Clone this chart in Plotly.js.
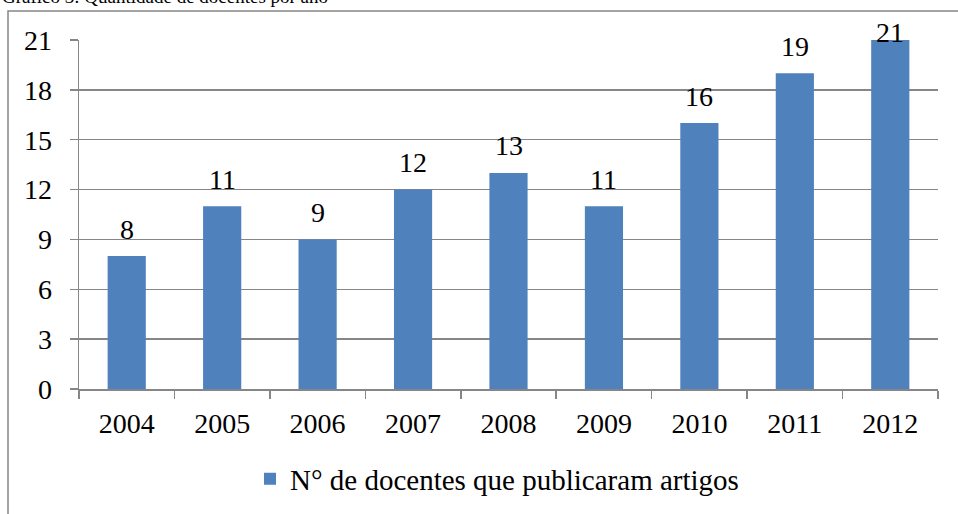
<!DOCTYPE html>
<html>
<head>
<meta charset="utf-8">
<script src="https://cdn.plot.ly/plotly-3.0.1.min.js"></script>
<style>
html,body{margin:0;padding:0;background:#fff;}
#chart{width:958px;height:514px;}
</style>
</head>
<body>
<div id="chart"></div>
<script>
const years = ['2004','2005','2006','2007','2008','2009','2010','2011','2012'];
const docentes = [8, 11, 9, 12, 13, 11, 16, 19, 21];
const seriesName = 'N° de docentes que publicaram artigos';
const chartTitle = 'Gráfico 3: Quantidade de docentes por ano';
const yTicks = [0, 3, 6, 9, 12, 15, 18, 21];

const font = 'Liberation Serif';
const W = 958, H = 514;
const plotL = 79, plotR = 938, plotT = 40, plotB = 389;
const pw = plotR - plotL, ph = plotB - plotT;
const yMax = 21;
const pxPerUnit = ph / yMax;

const trace = {
  type: 'bar',
  x: years,
  y: docentes,
  name: seriesName,
  marker: {color: '#4f81bd'},
  showlegend: true,
  hoverinfo: 'none'
};

// value labels placed above each bar (kept inside the chart frame like the original)
const labelGap = 17, minBaseline = 42;
const labelAnnotations = docentes.map((v, i) => {
  let baseline = plotB - v * pxPerUnit - labelGap;
  if (baseline < minBaseline) baseline = minBaseline;
  const center = baseline - 10;
  return {
    x: i, xref: 'x',
    y: (plotB - center) / ph, yref: 'paper',
    yanchor: 'middle', xanchor: 'center',
    text: String(v), showarrow: false,
    font: {family: font, size: 28, color: '#000'}
  };
});

const layout = {
  width: W, height: H,
  margin: {l: plotL, r: W - plotR, t: plotT, b: H - plotB, pad: 0},
  paper_bgcolor: '#fff', plot_bgcolor: '#fff',
  bargap: 0.6,
  font: {family: font, color: '#000'},
  xaxis: {
    type: 'category',
    categoryarray: years, categoryorder: 'array',
    range: [-0.5, years.length - 0.5],
    showline: true, linecolor: '#868686', linewidth: 1.5,
    ticks: 'outside', tickson: 'boundaries', ticklen: 8, tickcolor: '#868686', tickwidth: 1.5,
    tickfont: {family: font, size: 28, color: '#000'},
    tickangle: 0,
    ticklabelstandoff: 9,
    showgrid: false, zeroline: false, fixedrange: true, automargin: false
  },
  yaxis: {
    range: [0, yMax],
    tickvals: yTicks,
    ticktext: yTicks.map(String),
    showline: true, linecolor: '#868686', linewidth: 1.5,
    ticks: 'outside', ticklen: 8, tickcolor: '#868686', tickwidth: 1.5,
    tickfont: {family: font, size: 28, color: '#000'},
    ticklabelstandoff: 12,
    showgrid: true, gridcolor: '#868686', gridwidth: 1.5,
    zeroline: false, fixedrange: true, automargin: false
  },
  showlegend: true,
  legend: {
    orientation: 'h',
    xref: 'container', x: 497 / W, xanchor: 'center',
    yref: 'container', y: (H - 479) / H, yanchor: 'middle',
    font: {family: font, size: 29, color: '#000'},
    itemwidth: 30
  },
  shapes: [{
    type: 'rect', xref: 'paper', yref: 'paper',
    x0: (8 - plotL) / pw, x1: (W + 10 - plotL) / pw,
    y0: (plotB - (H + 10)) / ph, y1: 1 + (plotT - 11) / ph,
    line: {color: '#868686', width: 1.5}, fillcolor: 'rgba(0,0,0,0)', layer: 'below'
  }],
  annotations: [{
    text: chartTitle, xref: 'paper', yref: 'paper',
    x: (0 - plotL) / pw, xanchor: 'left',
    y: 1 + (plotT - 9) / ph, yanchor: 'bottom',
    showarrow: false,
    font: {family: font, size: 19, color: '#000'}
  }].concat(labelAnnotations)
};

Plotly.newPlot('chart', [trace], layout, {displayModeBar: false, staticPlot: true});
</script>
</body>
</html>
